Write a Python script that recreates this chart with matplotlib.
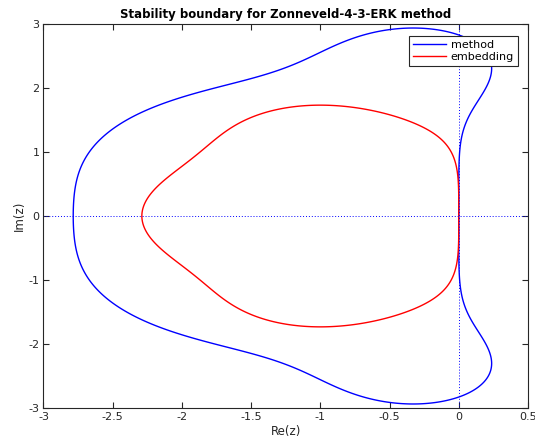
import numpy as np
import matplotlib
matplotlib.use("Agg")
import matplotlib.pyplot as plt
from matplotlib.lines import Line2D

# Stability polynomial coefficients (ascending powers of z) of the method and its embedding
method_coeffs = [1.0, 1.0, 1/2, 1/6, 1/24]
embedding_coeffs = [1.0, 1.0, 1/2, 1/6, 1/12, 1/24]
series_labels = ["method", "embedding"]
series_colors = ["#0000ff", "#ff0000"]
x_ticks = [-3, -2.5, -2, -1.5, -1, -0.5, 0, 0.5]
y_ticks = [-3, -2, -1, 0, 1, 2, 3]
x_ticklabels = ["-3", "-2.5", "-2", "-1.5", "-1", "-0.5", "0", "0.5"]
y_ticklabels = ["-3", "-2", "-1", "0", "1", "2", "3"]

fig = plt.figure(figsize=(5.35, 4.42), dpi=100)
ax = fig.add_axes([0.0813, 0.0769, 0.9056, 0.8688])

xs = np.linspace(-3, 0.5, 1401)
ys = np.linspace(-3, 3, 2401)
X, Y = np.meshgrid(xs, ys)
Z = X + 1j * Y

for coeffs, col in zip([method_coeffs, embedding_coeffs], series_colors):
    R = np.polyval(coeffs[::-1], Z)
    ax.contour(X, Y, np.abs(R), levels=[1.0], colors=[col], linewidths=1.0)

ax.axhline(0, color="#0000ff", linestyle=(0, (1, 2)), linewidth=0.7)
ax.axvline(0, color="#0000ff", linestyle=(0, (1, 2)), linewidth=0.7)

ax.set_xlim(-3, 0.5)
ax.set_ylim(-3, 3)
ax.set_xticks(x_ticks)
ax.set_xticklabels(x_ticklabels)
ax.set_yticks(y_ticks)
ax.set_yticklabels(y_ticklabels)
ax.tick_params(direction="in", length=4, width=0.8, top=True, right=True,
               labelsize=8, colors="#262626", pad=3)
for s in ax.spines.values():
    s.set_color("#262626")
    s.set_linewidth(0.8)

ax.set_xlabel("Re(z)", fontsize=8.5, color="#262626", labelpad=2)
ax.set_ylabel("Im(z)", fontsize=8.5, color="#262626", labelpad=1.5)
ax.set_title("Stability boundary for Zonneveld-4-3-ERK method", fontsize=8.5,
             fontweight="bold", pad=4)

handles = [Line2D([], [], color=c, linewidth=1.0) for c in series_colors]
leg = ax.legend(handles, series_labels, loc="upper right",
                bbox_to_anchor=(0.979, 0.969), borderaxespad=0, fontsize=8,
                fancybox=False, framealpha=1, edgecolor="#262626",
                handlelength=3.0, handletextpad=0.4,
                borderpad=0.35, labelspacing=0.2)
leg.get_frame().set_linewidth(0.8)

fig.savefig("out.png", dpi=100)
